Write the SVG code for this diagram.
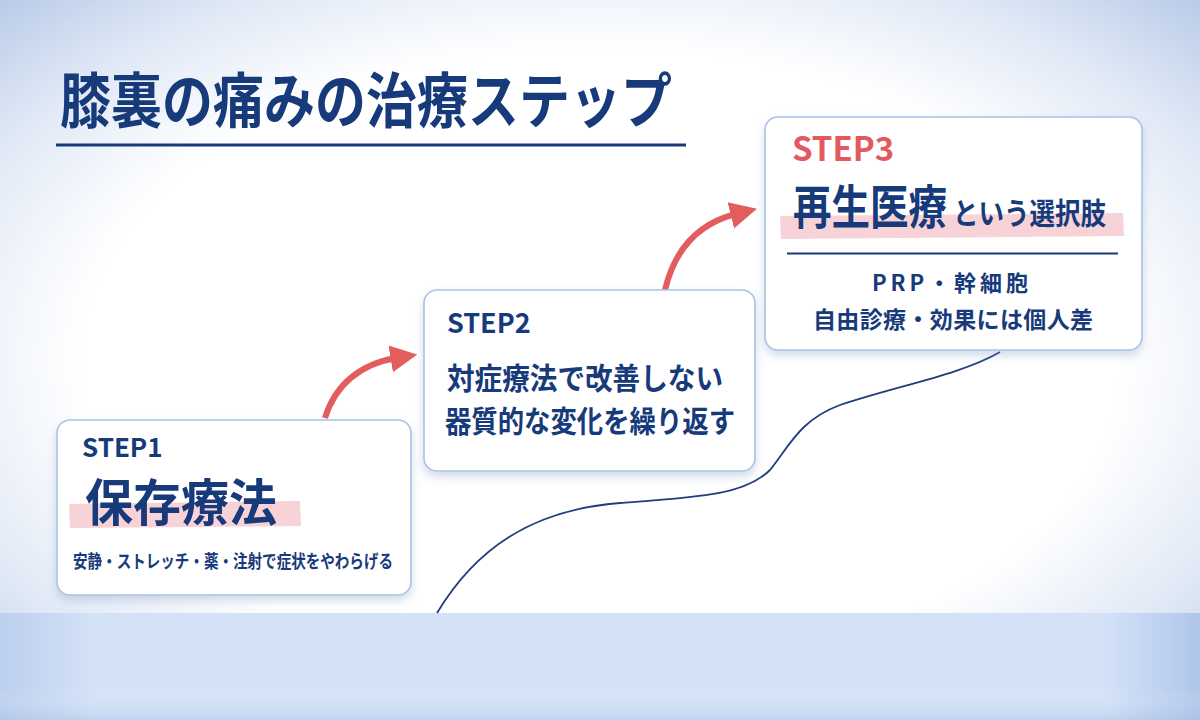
<svg xmlns="http://www.w3.org/2000/svg" width="1200" height="720" viewBox="0 0 1200 720">
<defs>
<radialGradient id="bg" cx="0.5" cy="0.5" r="0.72">
<stop offset="0" stop-color="#ffffff"/>
<stop offset="0.6" stop-color="#ffffff"/>
<stop offset="0.8" stop-color="#e1e9f6"/>
<stop offset="1" stop-color="#b5c8e7"/>
</radialGradient>
<linearGradient id="band" x1="0" y1="0" x2="1" y2="0">
<stop offset="0" stop-color="#bccfee"/>
<stop offset="0.08" stop-color="#d4e2f8"/>
<stop offset="0.92" stop-color="#d4e2f8"/>
<stop offset="1" stop-color="#afc6ea"/>
</linearGradient>
<linearGradient id="bandv" x1="0" y1="0" x2="0" y2="1">
<stop offset="0" stop-color="#ffffff" stop-opacity="0"/>
<stop offset="0.7" stop-color="#ffffff" stop-opacity="0"/>
<stop offset="1" stop-color="#9fb8e0" stop-opacity="0.35"/>
</linearGradient>
<filter id="sh" x="-10%" y="-10%" width="120%" height="130%">
<feDropShadow dx="0" dy="5" stdDeviation="5" flood-color="#7f97c2" flood-opacity="0.35"/>
</filter>
<marker id="ah" viewBox="0 0 10 10" refX="2" refY="5" markerWidth="4.5" markerHeight="5.2" markerUnits="strokeWidth" orient="auto">
<path d="M0,0 L10,5 L0,10 z" fill="#e35d5f"/>
</marker>
<style>
.box{fill:#ffffff;stroke:#a9c3e7;stroke-width:1.6;filter:url(#sh);}
.t{font-family:"Noto Sans CJK JP","Noto Sans",sans-serif;font-weight:700;fill:#173a7a;}
.hl{fill:#f4c4cb;opacity:0.75;}
.arr{fill:none;stroke:#e35d5f;stroke-width:6;}
</style>
</defs>
<rect width="1200" height="720" fill="url(#bg)"/>
<rect x="0" y="613" width="1200" height="107" fill="url(#band)"/>
<rect x="0" y="613" width="1200" height="107" fill="url(#bandv)"/>

<g id="title">
<text class="t" x="60" y="123" font-size="60" font-weight="900" textLength="612" lengthAdjust="spacingAndGlyphs">膝裏の痛みの治療ステップ</text>
<rect x="56" y="143.5" width="630" height="3" fill="#173a7a"/>
</g>

<g id="connectors">
<path d="M 437 613 C 475 550, 530 510, 620 503 C 700 497, 745 495, 770 470 C 790 445, 800 420, 840 405 C 900 385, 960 375, 1000 352" fill="none" stroke="#1f3f7c" stroke-width="1.8"/>
<path class="arr" d="M 325 418 C 335 385, 360 364, 396 358" marker-end="url(#ah)"/>
<path class="arr" d="M 665 290 C 675 248, 700 223, 736 214" marker-end="url(#ah)"/>
</g>

<g id="step1">
<rect class="box" x="57" y="420" width="354" height="175" rx="13"/>
<text class="t" x="82" y="457" font-size="26">STEP1</text>
<polygon class="hl" points="69,504 300,501 301,526 70,528"/>
<text class="t" x="85" y="521" font-size="50" textLength="192" lengthAdjust="spacingAndGlyphs">保存療法</text>
<text class="t" x="73" y="568" font-size="18" textLength="320" lengthAdjust="spacingAndGlyphs">安静・ストレッチ・薬・注射で症状をやわらげる</text>
</g>

<g id="step2">
<rect class="box" x="424" y="290" width="331" height="181" rx="13"/>
<text class="t" x="447" y="333" font-size="27">STEP2</text>
<text class="t" x="447" y="389" font-size="30" textLength="276" lengthAdjust="spacingAndGlyphs">対症療法で改善しない</text>
<text class="t" x="445" y="432" font-size="30" textLength="290" lengthAdjust="spacingAndGlyphs">器質的な変化を繰り返す</text>
</g>

<g id="step3">
<rect class="box" x="765" y="117" width="377" height="233" rx="13"/>
<text class="t" x="792" y="161" font-size="33" style="fill:#e25a5f">STEP3</text>
<polygon class="hl" points="780,216 1123,213 1124,236 781,239"/>
<text class="t" transform="translate(793,224) scale(0.82,1)" font-size="47">再生医療</text>
<text class="t" transform="translate(953,224) scale(0.85,1)" font-size="30">という選択肢</text>
<rect x="787" y="252.5" width="331" height="2" fill="#173a7a"/>
<text class="t" x="872" y="291" font-size="22" textLength="156" lengthAdjust="spacing">PRP・幹細胞</text>
<text class="t" x="813" y="328" font-size="23" textLength="280" lengthAdjust="spacing">自由診療・効果には個人差</text>
</g>
</svg>
